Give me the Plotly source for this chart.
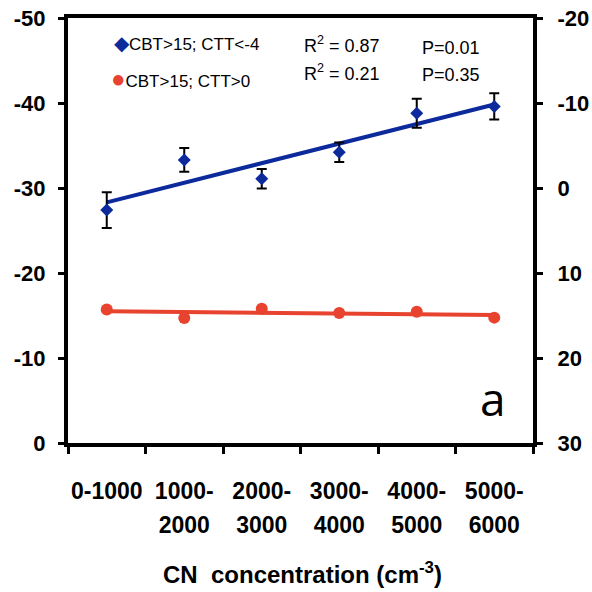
import numpy as np
import plotly.graph_objects as go

# CN concentration bins (cm^-3)
categories = ["0-1000", "1000-2000", "2000-3000", "3000-4000", "4000-5000", "5000-6000"]

# CBT>15; CTT<-4 (left axis) with error bars
cold_values = [-27.4, -33.3, -31.1, -34.2, -38.8, -39.6]
cold_errors = [2.1, 1.4, 1.15, 1.15, 1.7, 1.55]

# CBT>15; CTT>0 (right axis)
warm_values = [14.3, 15.3, 14.2, 14.7, 14.55, 15.25]

left_ticks = [0, -10, -20, -30, -40, -50]
right_ticks = [30, 20, 10, 0, -10, -20]

BLUE = "#0c2a9c"
RED = "#e8432f"
SANS = "Liberation Sans, Arial"
TICK_FONT = dict(family=SANS, size=22, color="black", weight="bold")
XTICK_FONT = dict(family=SANS, size=23, color="black", weight="bold")

idx = np.arange(len(categories))
first_row = [c if i == 0 else c.split("-")[0] + "-" for i, c in enumerate(categories)]
second_row = ["" if i == 0 else c.split("-")[1] for i, c in enumerate(categories)]

# Linear fits over the bins
cold_fit = np.polyfit(idx, cold_values, 1)
warm_fit = np.polyfit(idx, warm_values, 1)
fit_x = [idx[0], idx[-1]]

# Plot area geometry (pixels)
L, R, T, B = 68, 533, 18, 443


def px(x):
    return (x - L) / (R - L)


def py(y):
    return (B - y) / (B - T)


fig = go.Figure()

fig.add_trace(go.Scatter(
    x=fit_x, y=np.polyval(cold_fit, fit_x), mode="lines",
    line=dict(color=BLUE, width=4), showlegend=False, yaxis="y"))
fig.add_trace(go.Scatter(
    x=fit_x, y=np.polyval(warm_fit, fit_x), mode="lines",
    line=dict(color=RED, width=4), showlegend=False, yaxis="y2"))

fig.add_trace(go.Scatter(
    x=idx, y=cold_values, mode="markers", name="CBT>15; CTT<-4",
    marker=dict(symbol="diamond", size=10, color=BLUE),
    error_y=dict(type="data", array=cold_errors, color="black", thickness=2, width=5),
    showlegend=False, yaxis="y"))
fig.add_trace(go.Scatter(
    x=idx, y=warm_values, mode="markers", name="CBT>15; CTT>0",
    marker=dict(symbol="circle", size=12, color=RED),
    showlegend=False, yaxis="y2"))

# invisible trace to activate the second-row label axis
fig.add_trace(go.Scatter(x=[idx[0]], y=[cold_values[0]], xaxis="x2", yaxis="y",
                         mode="markers", marker=dict(opacity=0), showlegend=False,
                         hoverinfo="skip"))

fig.update_layout(
    width=592, height=592,
    margin=dict(l=L, r=592 - R, t=T, b=592 - B, autoexpand=False),
    plot_bgcolor="white", paper_bgcolor="white",
    xaxis=dict(
        range=[-0.5, len(categories) - 0.5], showgrid=False, zeroline=False,
        showline=True, linewidth=4, linecolor="black", mirror=True,
        tickvals=list(idx), ticktext=first_row, ticks="", automargin=False,
        tickfont=XTICK_FONT, ticklabelstandoff=24,
        minor=dict(tickvals=list(np.arange(-0.5, len(categories), 1.0)),
                   ticks="outside", ticklen=7, tickwidth=3, tickcolor="black"),
    ),
    xaxis2=dict(
        overlaying="x", anchor="y", side="bottom", automargin=False,
        range=[-0.5, len(categories) - 0.5], showgrid=False, zeroline=False,
        showline=False, tickvals=list(idx), ticktext=second_row, ticks="",
        tickfont=XTICK_FONT, ticklabelstandoff=66,
    ),
    yaxis=dict(
        range=[0, -50], tickvals=left_ticks, ticktext=[str(v) for v in left_ticks],
        showgrid=False, zeroline=False, automargin=False,
        showline=True, linewidth=4, linecolor="black",
        ticks="outside", ticklen=6, tickwidth=3, tickcolor="black",
        tickfont=TICK_FONT, ticklabelstandoff=8,
    ),
    yaxis2=dict(
        overlaying="y", side="right", anchor="x", automargin=False,
        range=[30, -20], tickvals=right_ticks, ticktext=[str(v) for v in right_ticks],
        showgrid=False, zeroline=False,
        showline=True, linewidth=4, linecolor="black",
        ticks="outside", ticklen=6, tickwidth=3, tickcolor="black",
        tickfont=TICK_FONT, ticklabelstandoff=10,
    ),
    showlegend=False,
)

annotations = [
    dict(text=f"<span style='color:{BLUE};font-size:20px'>◆</span>CBT&gt;15; CTT&lt;-4",
         x=px(112), y=py(43), xanchor="left", yanchor="middle",
         font=dict(family=SANS, size=17, color="black")),
    dict(text=f"<span style='color:{RED};font-size:24px'>●</span>CBT&gt;15; CTT&gt;0",
         x=px(109), y=py(78), xanchor="left", yanchor="middle",
         font=dict(family=SANS, size=17, color="black")),
    dict(text="R<sup>2</sup> = 0.87", x=px(302), y=py(45), xanchor="left", yanchor="middle",
         font=dict(family=SANS, size=18, color="black")),
    dict(text="R<sup>2</sup> = 0.21", x=px(302), y=py(72), xanchor="left", yanchor="middle",
         font=dict(family=SANS, size=18, color="black")),
    dict(text="P=0.01", x=px(420), y=py(48), xanchor="left", yanchor="middle",
         font=dict(family=SANS, size=18, color="black")),
    dict(text="P=0.35", x=px(420), y=py(75), xanchor="left", yanchor="middle",
         font=dict(family=SANS, size=18, color="black")),
    dict(text="a", x=px(508), y=py(398), xanchor="right", yanchor="middle",
         font=dict(family="Open Sans", size=46, color="black")),
    dict(text="CN\u00a0\u00a0concentration (cm<sup>-3</sup>)", x=px(302), y=py(573),
         xanchor="center", yanchor="middle",
         font=dict(family=SANS, size=24, color="black", weight="bold")),
]
for a in annotations:
    a.update(xref="paper", yref="paper", showarrow=False)
fig.update_layout(annotations=annotations)

fig.write_html("out.html")
